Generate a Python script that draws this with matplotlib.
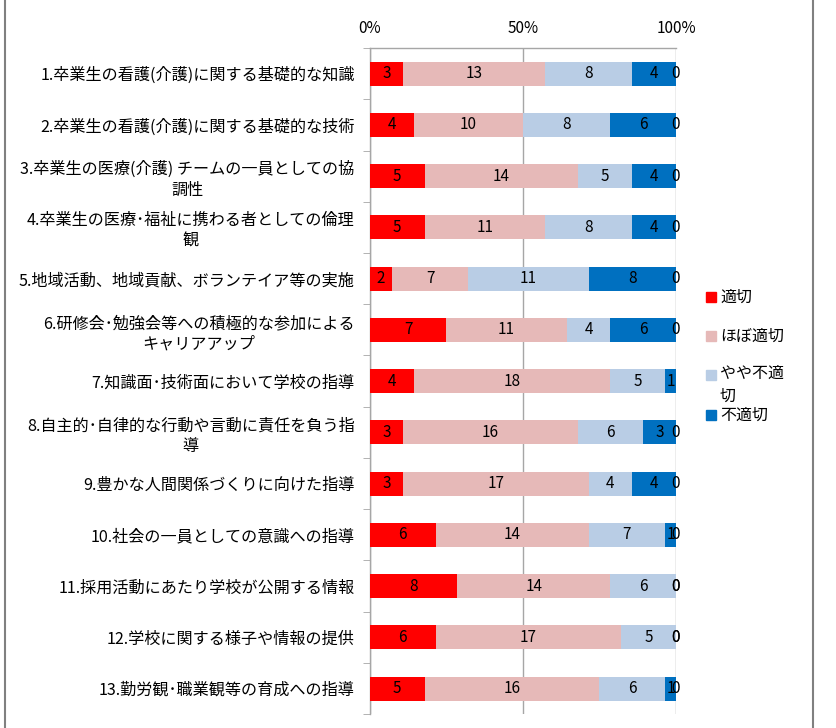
import numpy as np
import matplotlib
matplotlib.use("Agg")
import matplotlib.pyplot as plt
from matplotlib.patches import Rectangle
from matplotlib.lines import Line2D

plt.rcParams["font.family"] = ["Noto Sans CJK JP", "DejaVu Sans"]

# data
categories = [
    "1.卒業生の看護(介護)に関する基礎的な知識",
    "2.卒業生の看護(介護)に関する基礎的な技術",
    "3.卒業生の医療(介護) チームの一員としての協\n調性",
    "4.卒業生の医療･福祉に携わる者としての倫理\n観",
    "5.地域活動、地域貢献、ボランテイア等の実施",
    "6.研修会･勉強会等への積極的な参加による\nキャリアアップ",
    "7.知識面･技術面において学校の指導",
    "8.自主的･自律的な行動や言動に責任を負う指\n導",
    "9.豊かな人間関係づくりに向けた指導",
    "10.社会の一員としての意識への指導",
    "11.採用活動にあたり学校が公開する情報",
    "12.学校に関する様子や情報の提供",
    "13.勤労観･職業観等の育成への指導",
]
series_names = ["適切", "ほぼ適切", "やや不適切", "不適切", "無回答"]
legend_labels = ["適切", "ほぼ適切", "やや不適\n切", "不適切"]
tekisetsu = [3, 4, 5, 5, 2, 7, 4, 3, 3, 6, 8, 6, 5]
hobo = [13, 10, 14, 11, 7, 11, 18, 16, 17, 14, 14, 17, 16]
yaya = [8, 8, 5, 8, 11, 4, 5, 6, 4, 7, 6, 5, 6]
futekisetsu = [4, 6, 4, 4, 8, 6, 1, 3, 4, 1, 0, 0, 1]
mukaitou = [0, 0, 0, 0, 0, 0, 0, 0, 0, 0, 0, 0, 0]
colors = ["#FF0000", "#E6B9B8", "#B9CDE5", "#0070C0", "#7F7F7F"]

counts = np.array([tekisetsu, hobo, yaya, futekisetsu, mukaitou], dtype=float)
totals = counts.sum(axis=0)
shares = counts / totals

fig = plt.figure(figsize=(8.37, 7.28), dpi=100)
ax = fig.add_axes([0.442, 0.019, 0.3656, 0.915])

y = np.arange(len(categories))
left = np.zeros(len(categories))
for i, name in enumerate(series_names):
    b = ax.barh(y, shares[i], left=left, height=0.47, color=colors[i],
                label=name, zorder=3)
    ax.bar_label(b, labels=[f"{int(v)}" for v in counts[i]],
                 label_type="center", fontsize=11, color="black", zorder=4)
    left += shares[i]

ax.set_xlim(0, 1)
ax.set_ylim(len(categories) - 0.5, -0.5)
ax.xaxis.tick_top()
ax.set_xticks([0, 0.5, 1.0])
ax.set_xticklabels(["0%", "50%", "100%"], fontsize=11)
ax.tick_params(axis="x", length=0, pad=8)
ax.grid(axis="x", color="#A6A6A6", linewidth=1, zorder=0)

ax.set_yticks(y)
ax.set_yticklabels(categories, fontsize=11.6, multialignment="center",
                   linespacing=1.25)
ax.tick_params(axis="y", length=0, pad=11)
ax.set_yticks(np.arange(-0.5, len(categories), 1), minor=True)
ax.tick_params(axis="y", which="minor", length=5, color="#A6A6A6", direction="out")

for s in ["right", "bottom"]:
    ax.spines[s].set_visible(False)
for s in ["left", "top"]:
    ax.spines[s].set_color("#A6A6A6")
    ax.spines[s].set_linewidth(1)

# legend (first four series)
leg_y = [1 - 297 / 728, 1 - 336 / 728, 1 - 375 / 728, 1 - 415 / 728]
for i, lab in enumerate(legend_labels):
    fig.patches.append(Rectangle((706 / 837, leg_y[i] - 0.0075), 10 / 837, 10 / 728,
                                 transform=fig.transFigure, color=colors[i]))
    if "\n" in lab:
        fig.text(720 / 837, leg_y[i] + 0.014, lab, fontsize=11.5, va="top",
                 ha="left", linespacing=1.45)
    else:
        fig.text(720 / 837, leg_y[i], lab, fontsize=11.5, va="center", ha="left")

# outer chart border
for xb in [5 / 837, 813 / 837]:
    fig.add_artist(Line2D([xb, xb], [0, 1], transform=fig.transFigure,
                          color="#808080", linewidth=1.5))

fig.savefig("out.png", dpi=100, facecolor="white")
